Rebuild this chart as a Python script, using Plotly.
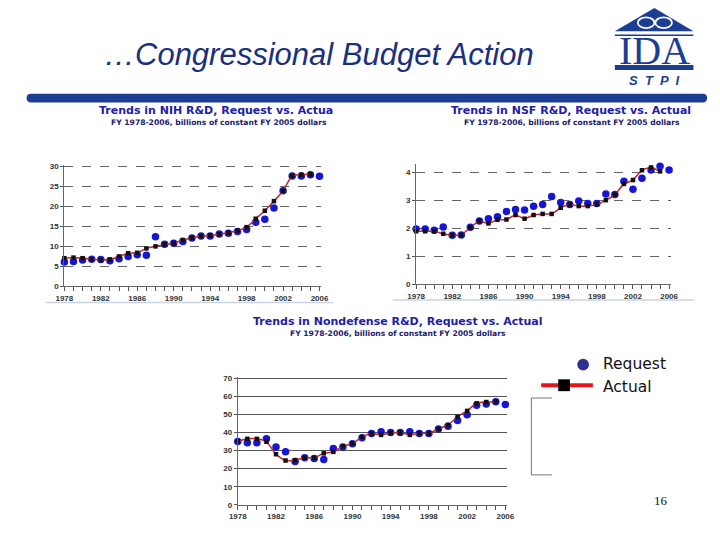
import plotly.graph_objects as go

W, H = 720, 540

years = list(range(1978, 2007))
years_actual = list(range(1978, 2006))

nih_request = [6.1, 6.2, 6.6, 6.8, 6.7, 6.4, 6.9, 7.5, 7.9, 7.8, 12.4, 10.5, 10.8, 11.2, 12.1,
               12.6, 12.6, 13.1, 13.3, 13.7, 14.2, 16.0, 16.8, 19.6, 23.9, 27.6, 27.6, 27.9, 27.5]
nih_actual = [7.05, 7.2, 7.05, 6.8, 6.6, 6.7, 7.5, 8.3, 8.4, 9.5, 10.0, 10.5, 10.8, 11.6, 12.1,
              12.5, 12.7, 13.0, 13.4, 13.9, 14.8, 16.9, 18.9, 21.3, 23.9, 27.6, 27.9, 28.0]

nsf_request = [1.98, 1.98, 1.94, 2.05, 1.76, 1.77, 2.04, 2.27, 2.35, 2.42, 2.61, 2.68, 2.66, 2.79,
               2.86, 3.14, 2.93, 2.86, 2.98, 2.89, 2.89, 3.23, 3.21, 3.69, 3.40, 3.79, 4.09, 4.22, 4.09]
nsf_actual = [1.90, 1.90, 1.90, 1.81, 1.76, 1.77, 2.04, 2.27, 2.18, 2.31, 2.32, 2.48, 2.35, 2.48,
              2.52, 2.52, 2.74, 2.86, 2.80, 2.80, 2.86, 3.01, 3.21, 3.59, 3.73, 4.08, 4.18, 4.04]

nd_request = [35.1, 34.4, 34.4, 36.5, 32.0, 29.3, 24.0, 26.0, 25.6, 25.1, 31.1, 32.0, 33.8, 37.1,
              39.5, 40.4, 40.0, 40.0, 40.4, 39.5, 39.5, 42.0, 43.5, 46.7, 49.8, 55.1, 55.8, 57.1, 55.6]
nd_actual = [35.1, 36.5, 36.5, 34.9, 28.0, 24.5, 24.7, 26.0, 26.0, 28.5, 29.3, 32.4, 34.0, 37.5,
             39.5, 38.7, 39.8, 40.0, 38.7, 39.6, 39.6, 42.0, 44.2, 48.7, 52.0, 56.2, 56.9, 57.1]

x_tick_years = list(range(1978, 2007, 4))
x_tick_labels = ["<b>%d</b>" % y for y in x_tick_years]

nih_ticks = [0, 5, 10, 15, 20, 25, 30]
nsf_ticks = [0, 1, 2, 3, 4]
nd_ticks = [0, 10, 20, 30, 40, 50, 60, 70]

title_text = "…Congressional Budget Action"
chart_titles = ["Trends in NIH R&D, Request vs. Actua",
                "Trends in NSF R&D, Request vs. Actual",
                "Trends in Nondefense R&D, Request vs. Actual"]
subtitle = "FY 1978-2006, billions of constant FY 2005 dollars"
legend_labels = ["Request", "Actual"]


def px(x):
    return x / W


def py(y):
    return 1 - y / H


REQ_BLUE = "#1515d8"
ACT_RED = "#c0262c"
TICKFONT = dict(family="Liberation Sans, Arial", size=8, color="#333")

fig = go.Figure()


def add_pair(xa, ya, req, act):
    fig.add_trace(go.Scatter(x=years, y=req, mode="markers", xaxis=xa, yaxis=ya,
                             marker=dict(color=REQ_BLUE, size=7.5), cliponaxis=False,
                             showlegend=False, hoverinfo="skip"))
    fig.add_trace(go.Scatter(x=years_actual, y=act, mode="lines+markers", xaxis=xa, yaxis=ya,
                             line=dict(color=ACT_RED, width=1.5, shape="spline", smoothing=0.6),
                             marker=dict(color="#111", size=4.5, symbol="square"),
                             cliponaxis=False, showlegend=False, hoverinfo="skip"))


add_pair("x", "y", nih_request, nih_actual)
add_pair("x2", "y2", nsf_request, nsf_actual)
add_pair("x3", "y3", nd_request, nd_actual)


def xaxis(domain, anchor):
    return dict(domain=domain, anchor=anchor, range=[1978, 2006.2], showline=True,
                linecolor="#666", linewidth=1, ticks="outside", ticklen=4, tickcolor="#555",
                tickvals=x_tick_years, ticktext=x_tick_labels, tickfont=TICKFONT,
                showgrid=False, zeroline=False,
                minor=dict(dtick=1, ticks="outside", ticklen=4, tickcolor="#555", showgrid=False))


def yaxis(domain, anchor, rng, ticks, dash, gcolor):
    return dict(domain=domain, anchor=anchor, range=rng, showline=True, linecolor="#666",
                linewidth=1, ticks="outside", ticklen=3, tickcolor="#555",
                tickvals=ticks, ticktext=["<b>%g</b>" % t for t in ticks], tickfont=TICKFONT,
                showgrid=True, gridcolor=gcolor, griddash=dash, gridwidth=1, zeroline=False)


fig.update_layout(
    width=W, height=H, margin=dict(l=0, r=0, t=0, b=0),
    paper_bgcolor="white", plot_bgcolor="white", showlegend=False,
    xaxis=xaxis([px(56.7), px(319.9)], "y"),
    yaxis=yaxis([py(287.7), py(164.5)], "x", [0, 30.3], nih_ticks, "dash", "#666"),
    xaxis2=xaxis([px(417), px(677.9)], "y2"),
    yaxis2=yaxis([py(285.7), py(163.5)], "x2", [0, 4.3], nsf_ticks, "dash", "#666"),
    xaxis3=xaxis([px(234.3), px(510.3)], "y3"),
    yaxis3=yaxis([py(509.3), py(379.2)], "x3", [0, 71], nd_ticks, "solid", "#555"),
)

NAVY = "#1b3d92"
shapes = []
# blue header bar with rounded ends
x0, x1, y0, y1 = 18, 715, 92, 101
r = 4.5
path = "M %f,%f L %f,%f " % (px(x0 + r), py(y0), px(x1 - r), py(y0))
path += "Q %f,%f %f,%f " % (px(x1), py(y0), px(x1), py((y0 + y1) / 2))
path += "Q %f,%f %f,%f " % (px(x1), py(y1), px(x1 - r), py(y1))
path += "L %f,%f " % (px(x0 + r), py(y1))
path += "Q %f,%f %f,%f " % (px(x0), py(y1), px(x0), py((y0 + y1) / 2))
path += "Q %f,%f %f,%f Z" % (px(x0), py(y0), px(x0 + r), py(y0))
shapes.append(dict(type="path", xref="paper", yref="paper", path=path,
                   fillcolor=NAVY, line=dict(width=0)))

# logo: roof triangle, infinity loops, thin line, thick bar
tri = "M %f,%f L %f,%f L %f,%f Z" % (px(661), py(5), px(620.5), py(28.7), px(701), py(28.7))
shapes.append(dict(type="path", xref="paper", yref="paper", path=tri,
                   fillcolor=NAVY, line=dict(width=0)))
for cx in (652.5, 670.5):
    shapes.append(dict(type="circle", xref="paper", yref="paper", x0=px(cx - 8.5), x1=px(cx + 8.5),
                       y0=py(25.5), y1=py(14.5), fillcolor="rgba(0,0,0,0)",
                       line=dict(color="white", width=1.8)))
shapes.append(dict(type="rect", xref="paper", yref="paper", x0=px(620.5), x1=px(701),
                   y0=py(33.5), y1=py(32), fillcolor=NAVY, line=dict(width=0)))
shapes.append(dict(type="rect", xref="paper", yref="paper", x0=px(620.5), x1=px(701),
                   y0=py(68), y1=py(63), fillcolor=NAVY, line=dict(width=0)))

# separator lines under top charts
shapes.append(dict(type="line", xref="paper", yref="paper", x0=px(38), x1=px(332),
                   y0=py(304), y1=py(304), line=dict(color="#c9d3e3", width=1.5)))
shapes.append(dict(type="line", xref="paper", yref="paper", x0=px(393), x1=px(702),
                   y0=py(301.5), y1=py(301.5), line=dict(color="#c9d3e3", width=1.5)))

# legend symbols
shapes.append(dict(type="circle", xref="paper", yref="paper", x0=px(582), x1=px(594),
                   y0=py(373), y1=py(361), fillcolor="#2e3192", line=dict(width=0)))
shapes.append(dict(type="line", xref="paper", yref="paper", x0=px(545), x1=px(598),
                   y0=py(388), y1=py(388), line=dict(color="#e8141b", width=4)))
shapes.append(dict(type="rect", xref="paper", yref="paper", x0=px(562.5), x1=px(574.5),
                   y0=py(394), y1=py(382), fillcolor="#000", line=dict(width=0)))
# bracket
for (a, b, c, d) in [(535, 401, 535, 479), (535, 401, 556, 401), (535, 479, 556, 479)]:
    shapes.append(dict(type="line", xref="paper", yref="paper", x0=px(a), x1=px(c),
                       y0=py(b), y1=py(d), line=dict(color="#777", width=1)))

fig.update_layout(shapes=shapes)

ann = []


def text(x, y, s, size, color, family="Liberation Sans, Arial", xanchor="center"):
    ann.append(dict(x=px(x), y=py(y), xref="paper", yref="paper", text=s, showarrow=False,
                    xanchor=xanchor, yanchor="middle",
                    font=dict(family=family, size=size, color=color)))


text(317, 52, "<i>%s</i>" % title_text, 31, "#1a2f80")
text(661, 48, "IDA", 40, NAVY, family="Liberation Serif, Times New Roman")
text(661, 79, "<i><b>S  T  P  I</b></i>", 13, NAVY)

TBLUE = "#2020a8"
SBLUE = "#202070"
TF = "DejaVu Sans, Verdana"
text(212.5, 109, "<b>%s</b>" % chart_titles[0], 11, TBLUE, family=TF)
text(215, 121, "<b>%s</b>" % subtitle, 7.6, SBLUE, family=TF)
text(576, 109, "<b>%s</b>" % chart_titles[1], 11, TBLUE, family=TF)
text(576.5, 121, "<b>%s</b>" % subtitle, 7.6, SBLUE, family=TF)
text(398.5, 323, "<b>%s</b>" % chart_titles[2], 11, TBLUE, family=TF)
text(398, 335, "<b>%s</b>" % subtitle, 7.6, SBLUE, family=TF)

text(606, 366, legend_labels[0], 15.5, "#111", family=TF, xanchor="left")
text(606, 390, legend_labels[1], 15.5, "#111", family=TF, xanchor="left")
text(668, 505, "16", 13, "#111", family="Liberation Serif, Times New Roman")

fig.update_layout(annotations=ann)

fig.write_html("out.html", post_script="document.body.style.margin='0';",
               config={"displayModeBar": False})
